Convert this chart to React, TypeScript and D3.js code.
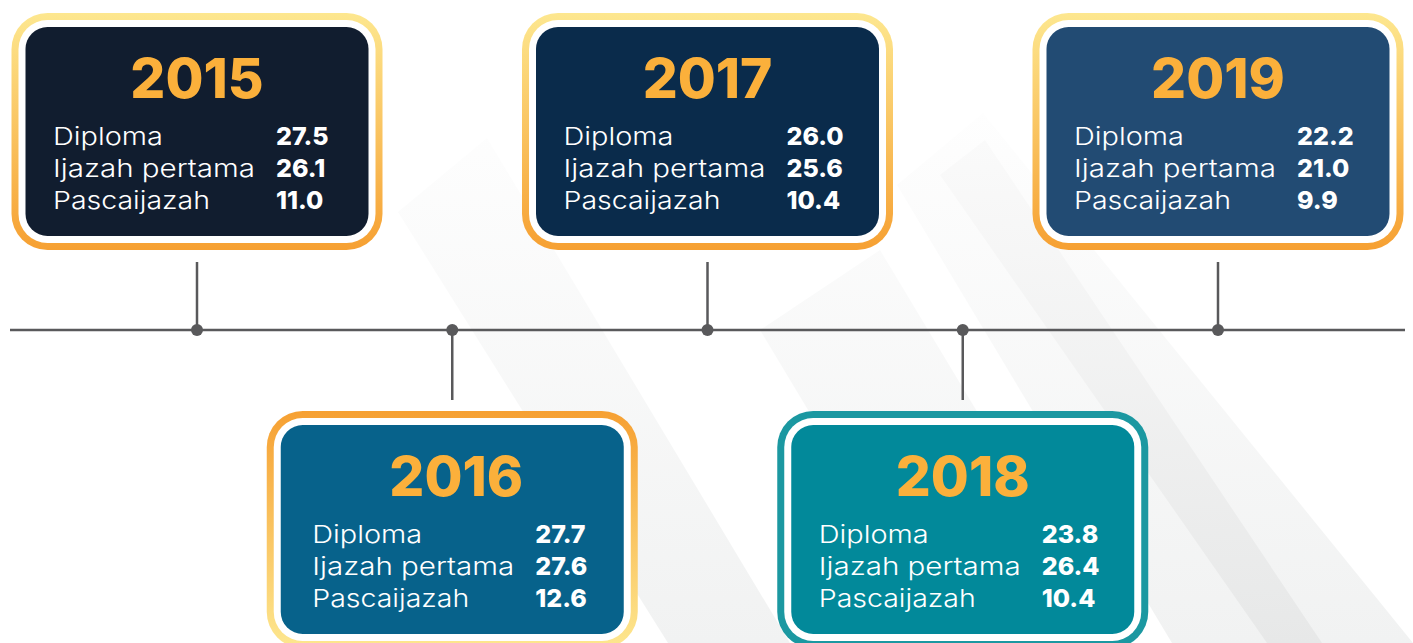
import React from "react";
import * as d3 from "d3";

const years = ["2015", "2016", "2017", "2018", "2019"];
const categories = ["Diploma", "Ijazah pertama", "Pascaijazah"];
const diploma = [27.5, 27.7, 26.0, 23.8, 22.2];
const ijazahPertama = [26.1, 27.6, 25.6, 26.4, 21.0];
const pascaijazah = [11.0, 12.6, 10.4, 10.4, 9.9];
const boxFills = ["#111d2f", "#07628b", "#0a2b4b", "#02899a", "#224b73"];
const ringStyles = ["gold", "goldRev", "gold", "teal", "gold"];
const textShift = [0, 4, 0, 0, 0];

// rendered widths of the category labels (layout, to mimic the wide geometric face)
const labelWidths: Record<string, number> = {
  Diploma: 110,
  "Ijazah pertama": 202,
  Pascaijazah: 157,
};

const W = 1413;
const H = 643;

export default function App() {
  const x = d3.scalePoint<string>().domain(years).range([197, 1218]);
  const lineY = 330;
  const boxW = 343;
  const boxH = 209;
  const series = [diploma, ijazahPertama, pascaijazah];
  const fmt = d3.format(".1f");

  const ringFill = (s: string) =>
    s === "gold" ? "url(#ringGold)" : s === "goldRev" ? "url(#ringGoldRev)" : "#1b98a1";

  return (
    <svg
      width={W}
      height={H}
      style={{ position: "absolute", left: 0, top: 0, background: "#ffffff" }}
      fontFamily="Inter, 'Open Sans', sans-serif"
    >
      <defs>
        <linearGradient id="ringGold" x1="0" y1="0" x2="0" y2="1">
          <stop offset="0" stopColor="#fde78f" />
          <stop offset="1" stopColor="#f6a032" />
        </linearGradient>
        <linearGradient id="ringGoldRev" x1="0" y1="0" x2="0" y2="1">
          <stop offset="0" stopColor="#f6a032" />
          <stop offset="1" stopColor="#fde78f" />
        </linearGradient>
        <linearGradient id="bandGrad" gradientUnits="userSpaceOnUse" x1="0" y1="110" x2="0" y2="643">
          <stop offset="0" stopColor="#fefefe" />
          <stop offset="1" stopColor="#f1f2f2" />
        </linearGradient>
        <linearGradient id="bandDark" gradientUnits="userSpaceOnUse" x1="0" y1="140" x2="0" y2="643">
          <stop offset="0" stopColor="#fafafa" />
          <stop offset="1" stopColor="#e7e8e8" />
        </linearGradient>
      </defs>

      {/* faint diagonal background bands */}
      <polygon points="487,138 398,212 668,643 790,643" fill="url(#bandGrad)" />
      <polygon points="880,250 760,330 948,643 1116,643" fill="url(#bandGrad)" />
      <polygon points="983,113 897,185 1172,643 1413,643" fill="url(#bandGrad)" />
      <polygon points="985,140 940,175 1267,643 1322,643" fill="url(#bandDark)" />

      {/* timeline */}
      <line x1={10} x2={1405} y1={lineY} y2={lineY} stroke="#59595b" strokeWidth={2.5} />
      {years.map((yr, i) => {
        const cx = x(yr)!;
        const up = i % 2 === 0;
        return (
          <g key={"stem" + yr}>
            <line
              x1={cx}
              x2={cx}
              y1={up ? 262 : lineY}
              y2={up ? lineY : 400}
              stroke="#59595b"
              strokeWidth={2.5}
            />
            <circle cx={cx} cy={lineY} r={6} fill="#59595b" />
          </g>
        );
      })}

      {/* boxes */}
      {years.map((yr, i) => {
        const cx = x(yr)!;
        const tx = cx + textShift[i];
        const up = i % 2 === 0;
        const top = up ? 27 : 425;
        const left = cx - boxW / 2;
        return (
          <g key={"box" + yr}>
            <rect
              x={left - 14}
              y={top - 14}
              width={boxW + 28}
              height={boxH + 28}
              rx={36}
              fill={ringFill(ringStyles[i])}
            />
            <rect
              x={left - 7}
              y={top - 7}
              width={boxW + 14}
              height={boxH + 14}
              rx={29}
              fill="#ffffff"
            />
            <rect x={left} y={top} width={boxW} height={boxH} rx={22} fill={boxFills[i]} />
            <text
              x={tx}
              y={top + 71}
              textAnchor="middle"
              fill="#fbb03b"
              fontSize={55}
              fontWeight={800}
            >
              {yr}
            </text>
            {categories.map((c, j) => (
              <g key={c}>
                <text
                  x={tx - 144}
                  y={top + 118 + j * 32}
                  fill="#ffffff"
                  fontSize={24.5}
                  fontWeight={300}
                  textLength={labelWidths[c]}
                  lengthAdjust="spacingAndGlyphs"
                >
                  {c}
                </text>
                <text
                  x={tx + 79}
                  y={top + 118 + j * 32}
                  fill="#ffffff"
                  fontSize={25}
                  fontWeight={800}
                >
                  {fmt(series[j][i])}
                </text>
              </g>
            ))}
          </g>
        );
      })}
    </svg>
  );
}
